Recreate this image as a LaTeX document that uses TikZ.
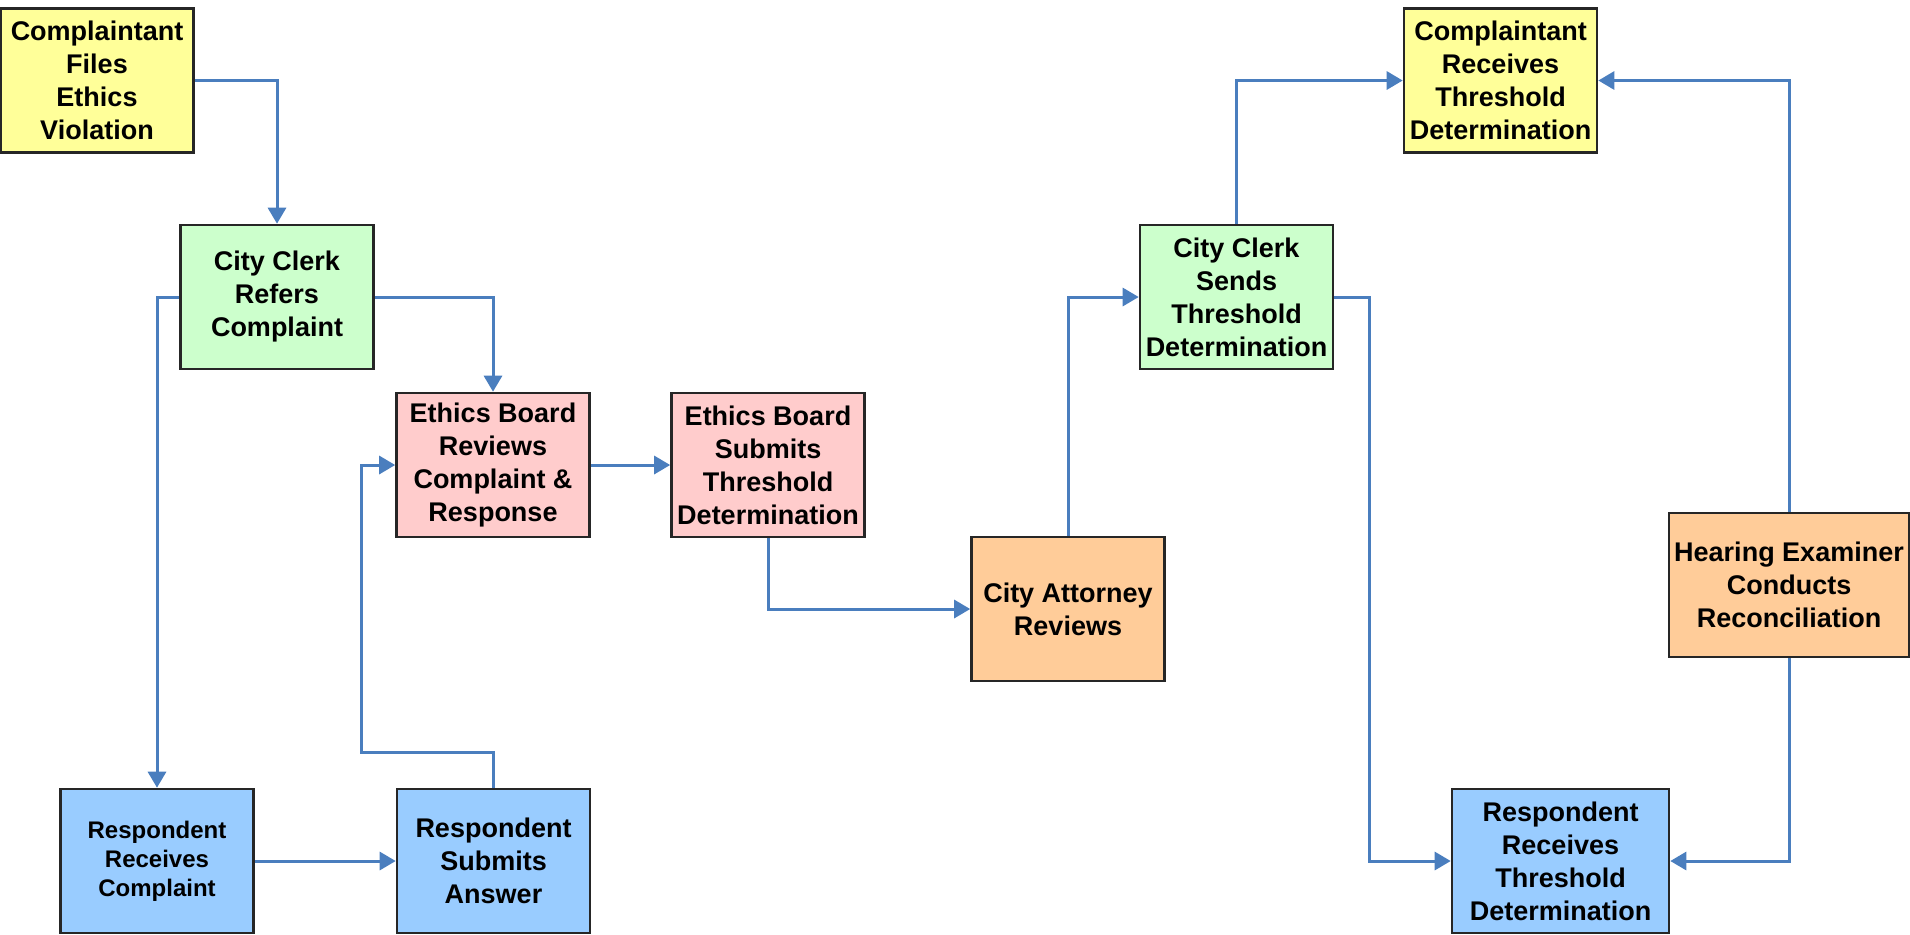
\documentclass[tikz,border=0pt]{standalone}
\usepackage{fontspec}
\setmainfont{Liberation Sans}
\usetikzlibrary{arrows.meta}
\definecolor{flowblue}{RGB}{74,126,190}
\definecolor{fillyellow}{RGB}{255,255,153}
\definecolor{fillgreen}{RGB}{204,255,204}
\definecolor{fillpink}{RGB}{255,204,204}
\definecolor{fillorange}{RGB}{255,204,153}
\definecolor{fillblue}{RGB}{153,204,255}

\begin{document}
\begin{tikzpicture}[x=0.5pt, y=-0.5pt, >={Triangle[length=8pt,width=9pt]},
    box/.style={draw=black!85, line width=1.3pt, align=center, inner sep=0pt,
        font=\bfseries\fontsize{13.5}{16.5}\selectfont,
        minimum width=96.5pt, minimum height=72pt},
    flow/.style={->, draw=flowblue, line width=1.5pt}]
    \useasboundingbox (0,0) rectangle (1910,934);

    % complainant side
    \node[box, fill=fillyellow] (cfile) at (97,80.5) {Complaintant\\Files\\Ethics\\Violation};
    \node[box, fill=fillgreen] (clerkrefer) at (277,297) {City Clerk\\Refers\\Complaint};

    % ethics board
    \node[box, fill=fillpink] (ebreview) at (493,465) {Ethics Board\\Reviews\\Complaint \&\\Response};
    \node[box, fill=fillpink] (ebsubmit) at (768,465) {Ethics Board\\Submits\\Threshold\\Determination};

    % respondent side
    \node[box, fill=fillblue, font=\bfseries\fontsize{12}{14.5}\selectfont] (rreceive) at (157,861) {Respondent\\Receives\\Complaint};
    \node[box, fill=fillblue] (rsubmit) at (493.5,861) {Respondent\\Submits\\Answer};

    % city attorney and clerk
    \node[box, fill=fillorange] (attorney) at (1068,609) {City Attorney\\Reviews};
    \node[box, fill=fillgreen] (clerksend) at (1236.5,297) {City Clerk\\Sends\\Threshold\\Determination};

    % outcome
    \node[box, fill=fillyellow] (creceive) at (1500.5,80.5) {Complaintant\\Receives\\Threshold\\Determination};
    \node[box, fill=fillblue, minimum width=108.5pt] (rthreshold) at (1560.5,861) {Respondent\\Receives\\Threshold\\Determination};
    \node[box, fill=fillorange, minimum width=120pt] (examiner) at (1789,585) {Hearing Examiner\\Conducts\\Reconciliation};

    % connectors
    \coordinate (answerloop) at (361,752);
    \draw[flow] (cfile.east) -| (clerkrefer.north);
    \draw[flow] (clerkrefer.west) -| (rreceive.north);
    \draw[flow] (clerkrefer.east) -| (ebreview.north);
    \draw[flow] (rreceive.east) -- (rsubmit.west);
    \draw[flow] (rsubmit.north) |- (answerloop) |- (ebreview.west);
    \draw[flow] (ebreview.east) -- (ebsubmit.west);
    \draw[flow] (ebsubmit.south) |- (attorney.west);
    \draw[flow] (attorney.north) |- (clerksend.west);
    \draw[flow] (clerksend.north) |- (creceive.west);
    \draw[flow] (clerksend.east) -- ++(35,0) |- (rthreshold.west);
    \draw[flow] (examiner.north) |- (creceive.east);
    \draw[flow] (examiner.south) |- (rthreshold.east);
\end{tikzpicture}
\end{document}
